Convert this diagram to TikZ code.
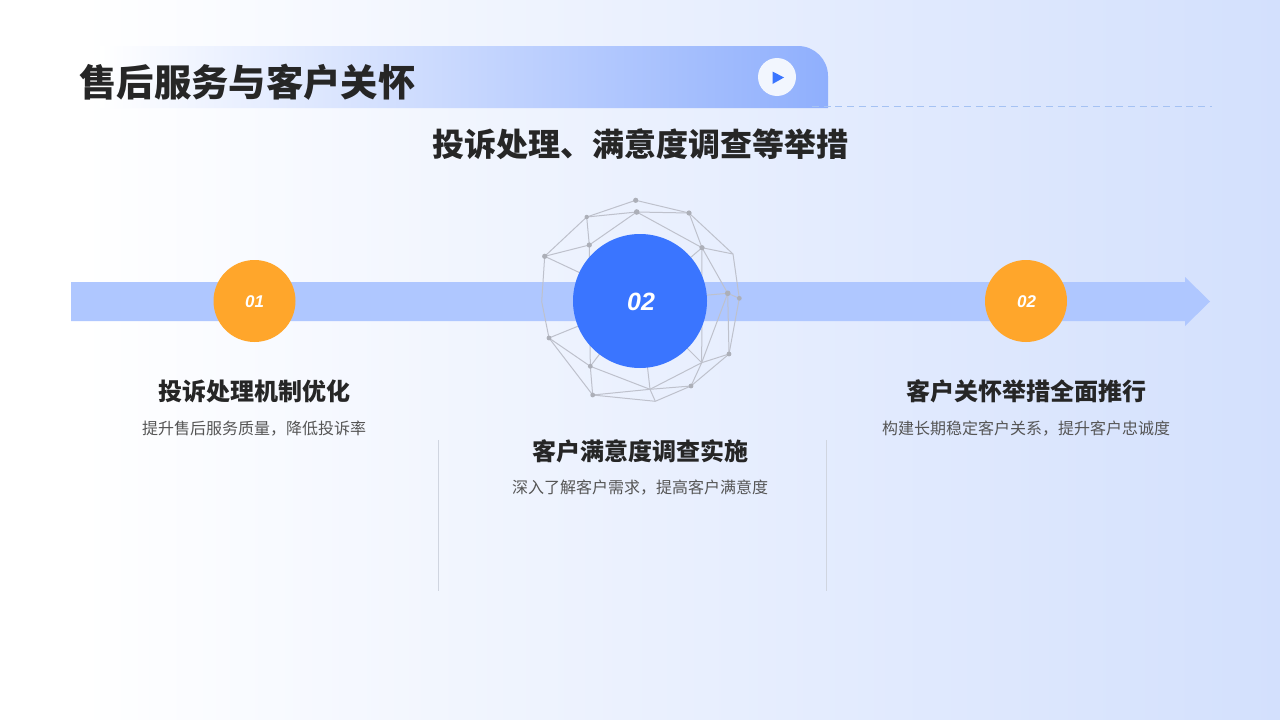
\documentclass[tikz,border=0pt]{standalone}
\usepackage{fontspec}
\setmainfont{Liberation Sans}
\newfontfamily\cjk{Noto Sans CJK SC}[BoldFont={Noto Sans CJK SC Bold}]
\newfontfamily\cjkheavy{Noto Sans CJK SC Black}
\definecolor{pageblue}{RGB}{211, 224, 253}
\definecolor{barblue}{RGB}{143, 175, 253}
\definecolor{arrowblue}{RGB}{175, 199, 255}
\definecolor{mainblue}{RGB}{58, 117, 255}
\definecolor{numorange}{RGB}{255, 166, 43}
\definecolor{dashblue}{RGB}{165, 194, 243}
\definecolor{meshgray}{RGB}{190, 193, 204}
\definecolor{dotgray}{RGB}{172, 175, 184}
\definecolor{inkdark}{RGB}{38, 38, 38}
\definecolor{inksoft}{RGB}{85, 85, 85}
\definecolor{sepgray}{RGB}{208, 213, 224}
\tikzset{
  pagetitle/.style={inner sep=0pt, text=inkdark, font=\cjkheavy\fontsize{37.3}{37.3}\selectfont},
  subtitle/.style={inner sep=0pt, text=inkdark, font=\cjkheavy\fontsize{32}{32}\selectfont},
  heading/.style={inner sep=0pt, text=inkdark, font=\cjkheavy\fontsize{24}{24}\selectfont},
  desc/.style={inner sep=0pt, text=inksoft, font=\cjk\fontsize{16}{16}\selectfont},
  numdisk/.style={circle, inner sep=0pt, minimum size=82pt, fill=numorange},
  bigdisk/.style={circle, inner sep=0pt, minimum size=134pt, fill=mainblue},
  numtext/.style={inner sep=0pt, text=white, font=\bfseries\itshape\fontsize{17}{17}\selectfont},
  bignum/.style={inner sep=0pt, text=white, font=\bfseries\itshape\fontsize{25}{25}\selectfont},
  meshline/.style={draw=meshgray, line width=1pt},
  sepline/.style={draw=sepgray, line width=0.9pt}
}
\begin{document}
\begin{tikzpicture}[x=1pt,y=-1pt]
  \useasboundingbox (0,0) rectangle (1280,720);

  % Fond
  \fill[white] (0,0) rectangle (80,720);
  \shade[left color=white, right color=pageblue] (80,0) rectangle (1280,720);

  % Bandeau du titre
  \shade[left color=white, right color=barblue] (100,108) -- (100,46) [rounded corners=30pt] -- (828,46) [sharp corners] -- (828,108) -- cycle;
  \draw[dashblue, line width=1.5pt, dash pattern=on 7pt off 4.7pt] (812,106.5) -- (1212,106.5);
  \node[circle, inner sep=0pt, minimum size=38pt, fill=white!70!pageblue] (play) at (777,77) {};
  \fill[mainblue] (772.5,71.5) -- (784,77.5) -- (772.5,84) -- cycle;

  % Titres
  \node[pagetitle] (title) at (247.5,82) {售后服务与客户关怀};
  \node[subtitle] (sub) at (640,144) {投诉处理、满意度调查等举措};

  % Fleche
  \fill[arrowblue] (71,282) -- (1185,282) -- (1185,277) -- (1210,301.5) -- (1185,326) -- (1185,321) -- (71,321) -- cycle;

  % Points du reseau
  \foreach \name/\px/\py in {a/635.7/200.3, b/636.7/212, c/689/213, d/586.7/217, e/589.3/245,
      f/702/247.7, g/544.7/256.3, h/733/254, i/727.7/293.3, j/739.3/298.3, k/541.7/301.7,
      l/549/338, m/729/354, n/590.3/366.3, o/701.7/362.7, p/691/386, q/650/389.3,
      r/592.7/395, s/655.3/401.3, z/640/301}
    \coordinate (\name) at (\px,\py);

  % Reseau
  \foreach \from/\to in {a/c, a/d, d/b, b/c, d/g, g/e, e/b, e/d, b/f, c/f, c/h, f/h, h/j, f/i,
      i/j, i/m, j/m, f/o, i/o, m/o, m/p, o/q, o/p, p/q, p/s, q/s, q/r, r/s, n/q,
      n/r, l/r, l/n, g/k, k/l, g/z, l/z, e/n, n/z, q/z, f/z, i/z, o/z}
    \draw[meshline] (\from) -- (\to);
  \foreach \name/\rad in {a/2.6, b/2.8, c/2.6, d/2.2, e/2.6, f/2.6, g/2.6, i/2.8, j/2.4, l/2.4,
      m/2.4, n/2.4, p/2.4, r/2.4}
    \fill[dotgray] (\name) circle (\rad);

  % Disques
  \node[numdisk] (one) at (254.5,301) {};
  \node[bigdisk] (two) at (640,301) {};
  \node[numdisk] (three) at (1026,301) {};
  \node[numtext] (numone) at (254.5,302) {01};
  \node[bignum] (numtwo) at (641,302) {02};
  \node[numtext] (numthree) at (1026.5,302) {02};

  % Textes
  \node[heading] (headone) at (254,391) {投诉处理机制优化};
  \node[desc] (descone) at (254,428.5) {提升售后服务质量^^^^ff0c降低投诉率};
  \node[heading] (headtwo) at (640,451) {客户满意度调查实施};
  \node[desc] (desctwo) at (640,487.5) {深入了解客户需求^^^^ff0c提高客户满意度};
  \node[heading] (headthree) at (1026,391) {客户关怀举措全面推行};
  \node[desc] (descthree) at (1026,428.5) {构建长期稳定客户关系^^^^ff0c提升客户忠诚度};

  % Separateurs
  \draw[sepline] (438,440) -- (438,591);
  \draw[sepline] (826,440) -- (826,591);
\end{tikzpicture}
\end{document}
